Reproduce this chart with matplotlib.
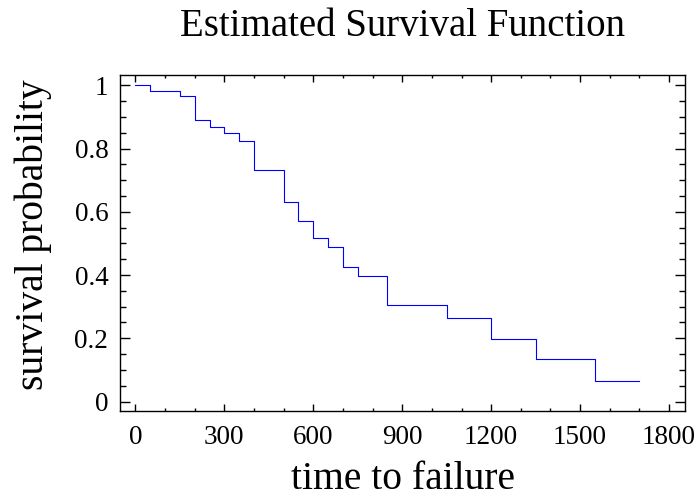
import matplotlib
matplotlib.use('Agg')
import matplotlib.pyplot as plt
from matplotlib.ticker import MultipleLocator

# Kaplan-Meier-Schaetzung
time_points = [0, 50, 150, 200, 250, 300, 350, 400, 500, 550, 600, 650,
               700, 750, 850, 1050, 1200, 1350, 1550, 1700]
survival = [1.0, 0.983, 0.966, 0.892, 0.869, 0.850, 0.825, 0.731, 0.630,
            0.571, 0.516, 0.489, 0.427, 0.396, 0.305, 0.265, 0.197, 0.133,
            0.066, 0.066]

x_ticks = [0, 300, 600, 900, 1200, 1500, 1800]
y_ticks = [0, 0.2, 0.4, 0.6, 0.8, 1]
y_tick_labels = ['0', '0.2', '0.4', '0.6', '0.8', '1']

plt.rcParams['font.family'] = ['Liberation Serif', 'DejaVu Serif']

fig = plt.figure(figsize=(6.99, 4.97), dpi=100)
ax = fig.add_axes([0.1717, 0.1737, 0.8083, 0.6753])

ax.plot(time_points, survival, drawstyle='steps-post', color='#0000ff',
        linewidth=0.8)

ax.set_xlim(-52, 1854)
ax.set_ylim(-0.029, 1.033)

ax.set_xticks(x_ticks)
ax.xaxis.set_minor_locator(MultipleLocator(100))
ax.set_yticks(y_ticks)
ax.set_yticklabels(y_tick_labels)
ax.yaxis.set_minor_locator(MultipleLocator(0.05))

ax.tick_params(axis='both', which='both', direction='in', top=True,
               right=True, width=1.0, labelsize=19.5, colors='black')
ax.tick_params(axis='x', which='major', length=5, pad=10.5)
ax.tick_params(axis='x', which='minor', length=2.5)
ax.tick_params(axis='y', which='major', length=7.5, pad=8.4)
ax.tick_params(axis='y', which='minor', length=4.3)

for spine in ax.spines.values():
    spine.set_linewidth(1.0)

ax.set_title('Estimated Survival Function', fontsize=28, pad=28)
ax.set_xlabel('time to failure', fontsize=28.5, labelpad=8)
ax.set_ylabel('survival probability', fontsize=28.5)
ax.yaxis.set_label_coords(-0.12, 0.523)

fig.savefig('out.png', dpi=100)
